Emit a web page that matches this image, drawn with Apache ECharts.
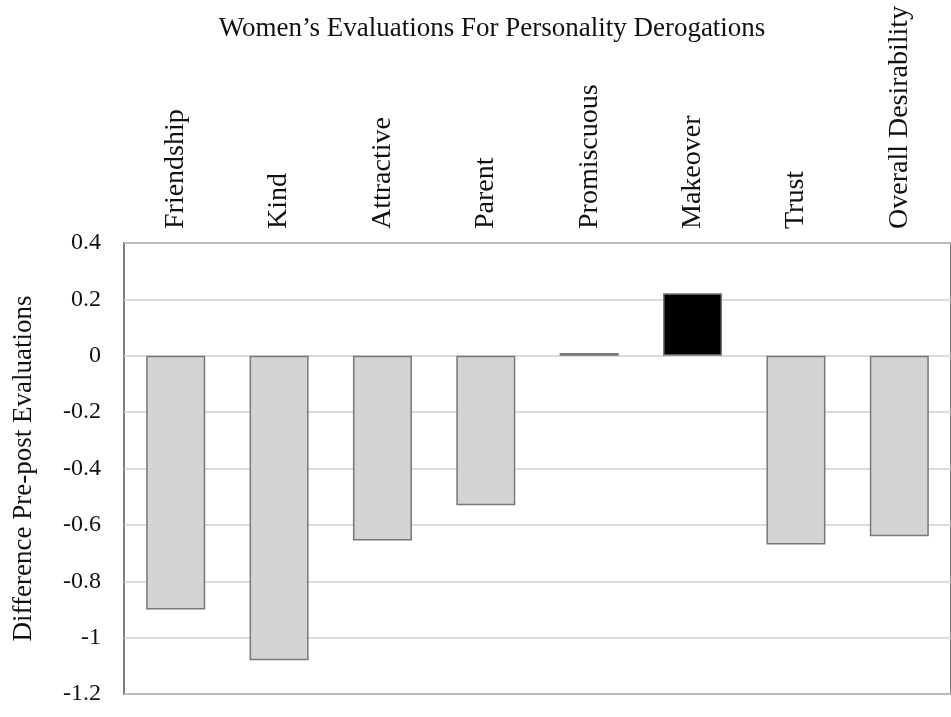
<!DOCTYPE html>
<html><head><meta charset="utf-8">
<script src="https://cdn.jsdelivr.net/npm/echarts@6/dist/echarts.min.js"></script>
<style>html,body{margin:0;padding:0;background:#fff}#c{width:951px;height:717px}</style>
</head><body><div id="c"></div>
<script>
const titleText = "Women’s Evaluations For Personality Derogations";
const yAxisName = "Difference Pre-post Evaluations";
const categories = ["Friendship","Kind","Attractive","Parent","Promiscuous","Makeover","Trust","Overall Desirability"];
const values = [-0.90, -1.08, -0.655, -0.53, 0.01, 0.222, -0.67, -0.64];
const highlighted = ["Makeover"];

const chart = echarts.init(document.getElementById('c'), null, {renderer:'canvas'});
const font = "'Liberation Serif','Times New Roman',serif";
chart.setOption({
  animation:false,
  backgroundColor:'#fff',
  title:{text:titleText,left:487,top:10,textAlign:'center',
    textStyle:{fontFamily:font,fontSize:27,fontWeight:'normal',color:'#111'}},
  grid:{left:124,top:243,width:836,height:451,show:true,borderColor:'#7e7e7e',borderWidth:2,backgroundColor:'transparent'},
  xAxis:{type:'category',data:categories,position:'top',
    axisLine:{show:false},axisTick:{show:false},
    axisLabel:{rotate:90,interval:0,margin:14,fontFamily:font,fontSize:28,color:'#111'}},
  yAxis:{type:'value',min:-1.2,max:0.4,interval:0.2,
    name:yAxisName,nameLocation:'middle',nameGap:87,nameRotate:90,
    nameTextStyle:{fontFamily:font,fontSize:27,color:'#111'},
    axisLine:{show:false},axisTick:{show:false},
    axisLabel:{fontFamily:font,fontSize:24,color:'#111',margin:23,
      formatter:v=>String(Math.round(v*10)/10)},
    splitLine:{lineStyle:{color:'#cfcfcf',width:1.5}}},
  series:[{type:'bar',data:values,barWidth:59,
    itemStyle:{color:p=>highlighted.includes(p.name)?'#000':'#d4d4d4',borderColor:'#787878',borderWidth:1.5}}]
});
</script></body></html>
